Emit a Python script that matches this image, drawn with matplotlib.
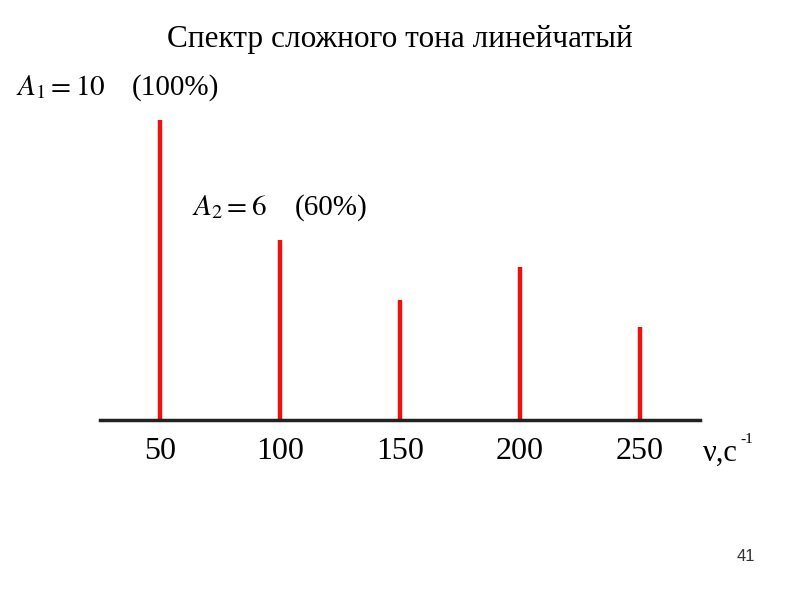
import matplotlib
matplotlib.use("Agg")
import matplotlib.pyplot as plt

# spectrum lines: frequency (1/s) and amplitude
freqs = [50, 100, 150, 200, 250]
amps = [10, 6, 4, 5.1, 3.1]
tick_labels = ["50", "100", "150", "200", "250"]

title = "Спектр сложного тона линейчатый"

plt.rcParams["font.family"] = ["Liberation Serif", "DejaVu Serif"]
plt.rcParams["mathtext.fontset"] = "stix"

fig = plt.figure(figsize=(8, 6), dpi=100)
ax = fig.add_axes([0.125, 0.3, 0.75, 0.5])

ax.vlines(freqs, 0, amps, color="#ee1111", linewidth=3.2, zorder=2)

ax.set_xlim(25, 275)
ax.set_ylim(0, 10)

for side in ["top", "right", "left"]:
    ax.spines[side].set_visible(False)
ax.spines["bottom"].set_color("#222222")
ax.spines["bottom"].set_linewidth(2.5)

ax.set_yticks([])
ax.set_xticks(freqs)
ax.set_xticklabels(tick_labels, fontsize=23)
ax.tick_params(axis="x", length=0, pad=12)

# title and labels
fig.text(0.5, 0.935, title, ha="center", va="center", fontsize=22.5)

fig.text(0.02, 0.842, r"$A_1 = 10$", fontsize=21, va="baseline")
fig.text(0.165, 0.842, "(100%)", fontsize=21, va="baseline")

fig.text(0.24, 0.642, r"$A_2 = 6$", fontsize=21, va="baseline")
fig.text(0.369, 0.642, "(60%)", fontsize=21, va="baseline")

fig.text(0.879, 0.232, "ν,с", fontsize=22, va="baseline")
fig.text(0.925, 0.262, "-1", fontsize=11, va="baseline")

fig.text(0.921, 0.072, "41", fontsize=12, family="Liberation Sans",
         color="#333333", ha="left", va="center")

fig.savefig("out.png", dpi=100)
